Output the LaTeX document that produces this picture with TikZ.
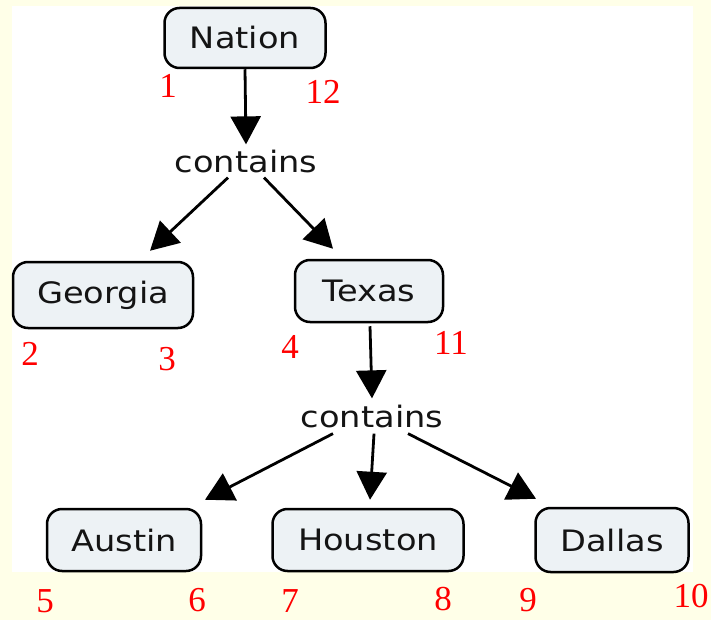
\documentclass[tikz,border=0pt]{standalone}
\usepackage{fontspec}
\setmainfont{Liberation Serif}
\newfontfamily\labelfont[FakeStretch=1.14]{DejaVu Sans}
\usetikzlibrary{arrows.meta}
\definecolor{bgyellow}{HTML}{FFFFE8}
\definecolor{boxfill}{HTML}{EDF2F5}
\tikzset{
  concept/.style={draw=black, line width=2.5pt, rounded corners=15pt, fill=boxfill,
    font=\labelfont\fontsize{29.5}{32}\selectfont, text=black!92, inner sep=0pt},
  linkword/.style={font=\labelfont\fontsize{29.5}{32}\selectfont, text=black!92, inner sep=4pt},
  arr/.style={line width=2.8pt, -{Triangle[length=28pt,width=30pt]}},
  num/.style={text=red, font=\fontsize{35}{38}\selectfont, inner sep=0pt}
}
\begin{document}
\begin{tikzpicture}[x=1pt,y=-1pt]
\useasboundingbox (0,0) rectangle (711,620);
\fill[bgyellow] (0,0) rectangle (711,620);
\fill[white] (12,6) rectangle (693,572);

\node[concept, minimum width=161pt, minimum height=60pt] (n) at (245,38) {Nation};
\node[linkword] (c1) at (246,162) {contains};
\node[concept, minimum width=180pt, minimum height=66pt] (g) at (103,295) {Georgia};
\node[concept, minimum width=148pt, minimum height=62pt] (t) at (369,291) {Texas};
\node[linkword] (c2) at (372,416) {contains};
\node[concept, minimum width=154pt, minimum height=62pt] (a) at (124,540) {Austin};
\node[concept, minimum width=191pt, minimum height=62pt] (h) at (368,540) {Houston};
\node[concept, minimum width=153pt, minimum height=64pt] (d) at (612,540) {Dallas};

\draw[arr] (n.south) -- ([yshift=2pt]c1.north);
\draw[arr] ([xshift=-18pt]c1.south) -- ([xshift=47pt,yshift=10pt]g.north);
\draw[arr] ([xshift=18pt]c1.south) -- ([xshift=-36pt,yshift=10pt]t.north);
\draw[arr] ([xshift=1pt,yshift=-3pt]t.south) -- ([yshift=2pt]c2.north);
\draw[arr] ([xshift=-39pt,yshift=-2pt]c2.south) -- ([xshift=81pt,yshift=8pt]a.north);
\draw[arr] ([xshift=2pt,yshift=-2pt]c2.south) -- ([xshift=2pt,yshift=8pt]h.north);
\draw[arr] ([xshift=36pt,yshift=-2pt]c2.south) -- ([xshift=-76pt,yshift=8pt]d.north);

\node[num] (l1) at (168,86) {1};
\node[num] (l12) at (323,92) {12};
\node[num] (l2) at (30,354) {2};
\node[num] (l3) at (167,359) {3};
\node[num] (l4) at (290,347) {4};
\node[num] (l11) at (451,343) {11};
\node[num] (l5) at (45,601) {5};
\node[num] (l6) at (197,600) {6};
\node[num] (l7) at (290,601) {7};
\node[num] (l8) at (443,599) {8};
\node[num] (l9) at (528,600) {9};
\node[num] (l10) at (691,596) {10};
\end{tikzpicture}
\end{document}
